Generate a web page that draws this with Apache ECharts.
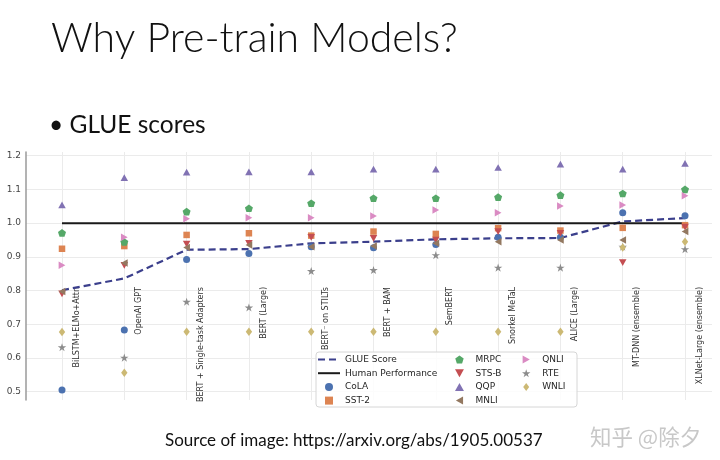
<!DOCTYPE html>
<html>
<head>
<meta charset="utf-8">
<script src="https://cdn.jsdelivr.net/npm/echarts@6.0.0/dist/echarts.min.js"></script>
<style>
  html, body { margin: 0; padding: 0; background: #fff; }
  #chart { width: 720px; height: 460px; }
</style>
</head>
<body>
<div id="chart"></div>
<script>
// models on the x axis
var models = ['BiLSTM+ELMo+Attn', 'OpenAI GPT', 'BERT + Single-task Adapters', 'BERT (Large)',
  'BERT\u207B on STILTs', 'BERT + BAM', 'SemBERT', 'Snorkel MeTaL', 'ALICE (Large)',
  'MT-DNN (ensemble)', 'XLNet-Large (ensemble)'];
var yTicks = [0.5, 0.6, 0.7, 0.8, 0.9, 1.0, 1.1, 1.2];

// scores normalised by human performance
var glue  = [0.801, 0.836, 0.921, 0.923, 0.940, 0.945, 0.952, 0.955, 0.956, 1.005, 1.015];
var human = [1.0, 1.0, 1.0, 1.0, 1.0, 1.0, 1.0, 1.0, 1.0, 1.0, 1.0];
var cola  = [0.505, 0.683, 0.892, 0.910, 0.930, 0.927, 0.937, 0.958, 0.958, 1.031, 1.022];
var sst2  = [0.924, 0.932, 0.965, 0.970, 0.963, 0.975, 0.968, 0.985, 0.978, 0.986, 0.994];
var mrpc  = [0.971, 0.944, 1.034, 1.044, 1.059, 1.074, 1.074, 1.077, 1.083, 1.088, 1.100];
var stsb  = [0.790, 0.875, 0.938, 0.940, 0.958, 0.955, 0.950, 0.975, 0.970, 0.883, 0.988];
var qqp   = [1.054, 1.135, 1.151, 1.152, 1.152, 1.160, 1.160, 1.165, 1.175, 1.160, 1.177];
var mnli  = [0.797, 0.882, 0.928, 0.935, 0.930, 0.932, 0.940, 0.945, 0.950, 0.950, 0.975];
var qnli  = [0.875, 0.958, 1.013, 1.016, 1.016, 1.021, 1.039, 1.031, 1.051, 1.054, 1.081];
var rte   = [0.632, 0.601, 0.767, 0.750, 0.858, 0.861, 0.905, 0.868, 0.868, 0.930, 0.923];
var wnli  = [0.677, 0.556, 0.678, 0.678, 0.678, 0.678, 0.678, 0.678, 0.678, 0.928, 0.945];

// marker shapes (matplotlib style)
var sym = {
  square: 'path://M-1,-1L1,-1L1,1L-1,1Z',
  pentagon: 'path://M0,-1L0.951,-0.309L0.588,0.809L-0.588,0.809L-0.951,-0.309Z',
  triUp: 'path://M0,-1L0.95,0.7L-0.95,0.7Z',
  triDown: 'path://M0,1L0.95,-0.7L-0.95,-0.7Z',
  triLeft: 'path://M-1,0L0.7,-0.95L0.7,0.95Z',
  triRight: 'path://M1,0L-0.7,-0.95L-0.7,0.95Z',
  star: 'path://M0,-1L0.225,-0.309L0.951,-0.309L0.363,0.118L0.588,0.809L0,0.382L-0.588,0.809L-0.363,0.118L-0.951,-0.309L-0.225,-0.309Z',
  diamond: 'path://M0,-1L0.75,0L0,1L-0.75,0Z'
};

function pts(arr) {
  return arr.map(function (v, i) { return [i, v]; });
}

function dots(name, arr, color, symbol, size) {
  return {
    name: name,
    type: 'scatter',
    data: pts(arr),
    symbol: symbol,
    symbolSize: size,
    symbolKeepAspect: true,
    itemStyle: { color: color, opacity: 1 },
    z: 3
  };
}

var idx = models.map(function (m, i) { return i; });
var font = 'DejaVu Sans';
var slideFont = 'Lato';
var legendText = { fontFamily: font, fontSize: 9, color: '#262626' };

var myChart = echarts.init(document.getElementById('chart'));
myChart.setOption({
  animation: false,
  backgroundColor: '#fff',
  title: [
    { text: 'Why Pre-train Models?', left: 46, top: 13,
      textStyle: { fontFamily: slideFont, fontSize: 41, fontWeight: 300, color: '#111' } },
    { text: '\u2022 GLUE scores', left: 44, top: 108,
      textStyle: { fontFamily: slideFont, fontSize: 24.5, fontWeight: 'normal', color: '#111' } },
    { text: 'Source of image: https://arxiv.org/abs/1905.00537', left: 160, top: 427,
      textStyle: { fontFamily: slideFont, fontSize: 17, fontWeight: 'normal', color: '#111' } },
    { text: '\u77E5\u4E4E @\u9664\u5915', left: 585, top: 421,
      textStyle: { fontFamily: 'Noto Sans CJK SC', fontSize: 21.5, fontWeight: 'normal', color: '#c8c8c8' } }
  ],
  grid: { left: 26, right: 8, top: 152, bottom: 60 },
  xAxis: [
    {
      // grid lines at each model
      type: 'value',
      min: -0.578,
      max: 10.433,
      axisLine: { show: false, onZero: false },
      axisTick: { show: false, customValues: idx },
      axisLabel: { show: false, customValues: idx },
      splitLine: { show: true, lineStyle: { color: '#ebebeb', width: 1 } }
    },
    {
      // model names, written inside the plot just right of each column
      type: 'value',
      min: -0.811,
      max: 10.2,
      position: 'bottom',
      offset: -113,
      axisLine: { show: false, onZero: false },
      axisTick: { show: false, customValues: idx },
      axisLabel: {
        customValues: idx,
        rotate: 90,
        margin: 0,
        fontFamily: font,
        fontSize: 8,
        color: '#333',
        formatter: function (v) { return models[Math.round(v)]; }
      },
      splitLine: { show: false }
    }
  ],
  yAxis: {
    type: 'value',
    min: 0.4754,
    max: 1.211,
    axisLine: { show: true, onZero: false, lineStyle: { color: '#9a9a9a', width: 1.5 } },
    axisTick: { show: false, customValues: yTicks },
    axisLabel: {
      customValues: yTicks,
      fontFamily: font,
      fontSize: 9,
      color: '#444',
      margin: 5,
      formatter: function (v) { return v.toFixed(1); }
    },
    splitLine: { show: true, lineStyle: { color: '#ebebeb', width: 1 } }
  },
  graphic: [{
    type: 'rect',
    shape: { x: 316, y: 352, width: 261, height: 55, r: 3 },
    style: { fill: 'rgba(255,255,255,0.85)', stroke: '#d6d6d6', lineWidth: 1 },
    z: 50
  }],
  legend: [
    { data: [{ name: 'GLUE Score', itemStyle: { opacity: 0 } },
             { name: 'Human Performance', itemStyle: { opacity: 0 } }, 'CoLA', 'SST-2'],
      orient: 'vertical', left: 312, top: 350, itemWidth: 22, itemHeight: 8, itemGap: 4.7, z: 60,
      textStyle: legendText },
    { data: ['MRPC', 'STS-B', 'QQP', 'MNLI'], orient: 'vertical',
      left: 450, top: 350, itemWidth: 22, itemHeight: 8, itemGap: 4.7, z: 60,
      textStyle: legendText },
    { data: ['QNLI', 'RTE', 'WNLI'], orient: 'vertical',
      left: 517, top: 350, itemWidth: 22, itemHeight: 8, itemGap: 4.7, z: 60,
      textStyle: legendText }
  ],
  series: [
    {
      name: 'GLUE Score', type: 'line', data: pts(glue), symbol: 'none', z: 2,
      lineStyle: { color: '#3b3f8c', width: 2.2, type: [7, 4] },
      itemStyle: { color: '#3b3f8c' }
    },
    {
      name: 'Human Performance', type: 'line', data: pts(human), symbol: 'none', z: 2,
      lineStyle: { color: '#1a1a1a', width: 2 },
      itemStyle: { color: '#1a1a1a' }
    },
    dots('CoLA', cola, '#4c72b0', 'circle', 7),
    dots('SST-2', sst2, '#dd8452', sym.square, 6.5),
    dots('MRPC', mrpc, '#55a868', sym.pentagon, 8),
    dots('STS-B', stsb, '#c44e52', sym.triDown, 7.5),
    dots('QQP', qqp, '#8172b3', sym.triUp, 7.5),
    dots('MNLI', mnli, '#937860', sym.triLeft, 7.5),
    dots('QNLI', qnli, '#da8bc3', sym.triRight, 7.5),
    dots('RTE', rte, '#8c8c8c', sym.star, 8.5),
    dots('WNLI', wnli, '#ccb974', sym.diamond, 8.5)
  ]
});
</script>
</body>
</html>
